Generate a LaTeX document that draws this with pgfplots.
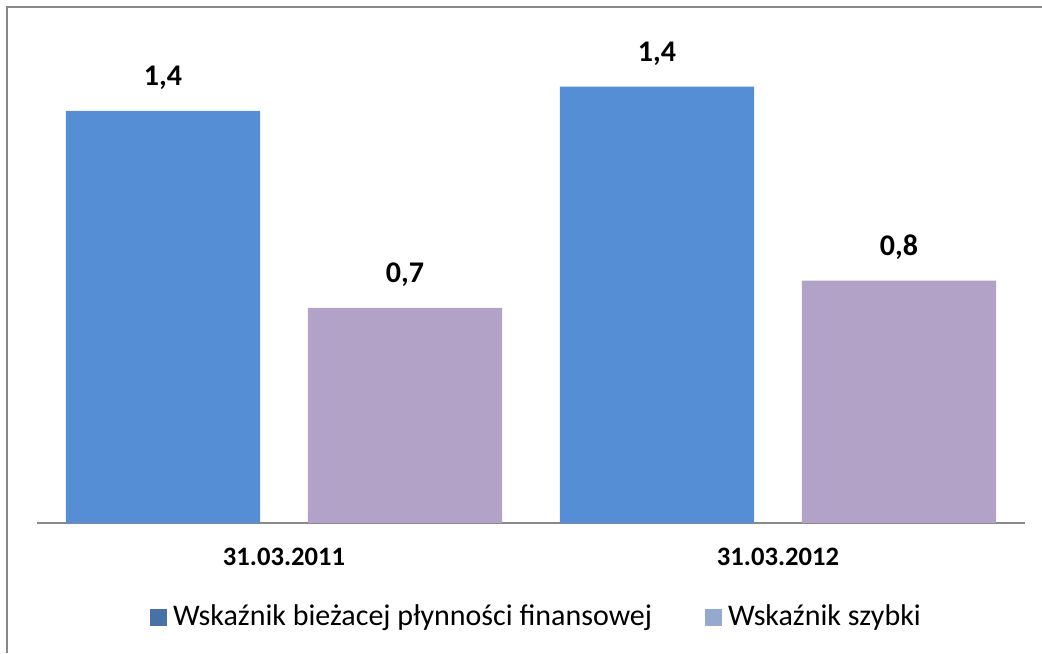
\documentclass[border=0pt]{standalone}
\usepackage{pgfplots}
\pgfplotsset{compat=1.18}
\usepackage{fontspec}
\setmainfont{Carlito}

\definecolor{barblue}{HTML}{558ED5}
\definecolor{barlilac}{HTML}{B3A2C7}
\definecolor{legblue}{HTML}{4672A8}
\definecolor{leglight}{HTML}{95A9D0}
\definecolor{framegray}{HTML}{898989}

\begin{document}
\begin{tikzpicture}
% page: 1042 x 653 px, 1px = 0.5pt
\path[use as bounding box] (0,0) rectangle (521pt,326.5pt);
\draw[framegray, line width=1pt] (3.5pt,0) -- (3.5pt,323pt) -- (521pt,323pt);

\begin{axis}[
    at={(18.5pt,65pt)},
    anchor=south west,
    scale only axis,
    width=494pt,
    height=258pt,
    xmin=-0.5, xmax=1.5,
    ymin=0, ymax=1.703,
    enlargelimits=false,
    clip=false,
    ybar,
    bar width=0.393,
    hide y axis,
    axis x line=bottom,
    x axis line style={draw=framegray, line width=1pt, -},
    xtick={0,1},
    xticklabels={31.03.2011, 31.03.2012},
    major tick length=0pt,
    xticklabel style={font=\bfseries\fontsize{13.3}{15}\selectfont, anchor=center, yshift=-17pt},
    nodes near coords,
    point meta=explicit symbolic,
    every node near coord/.append style={font=\bfseries\fontsize{15}{17}\selectfont, black, anchor=center, yshift=16.5pt},
    legend columns=2,
    legend style={
        at={(0.506,0)}, anchor=center, yshift=-47pt,
        draw=none, fill=none,
        font=\fontsize{15}{17}\selectfont,
        /tikz/every odd column/.append style={column sep=1.5pt},
        /tikz/every even column/.append style={column sep=25pt},
        nodes={inner sep=1.5pt},
    },
]
\addplot[draw=none, fill=barblue, bar shift=0pt,
    legend image code/.code={\fill[legblue] (0pt,-4.25pt) rectangle (8.5pt,4.25pt);}]
    coordinates {(-0.245,1.36) [1,4] (0.755,1.44) [1,4]};
\addplot[draw=none, fill=barlilac, bar shift=0pt,
    legend image code/.code={\fill[leglight] (0pt,-4.25pt) rectangle (8.5pt,4.25pt);}]
    coordinates {(0.245,0.71) [0,7] (1.245,0.80) [0,8]};
\legend{Wskaźnik bieżacej płynności finansowej, Wskaźnik szybki}
\end{axis}
\end{tikzpicture}
\end{document}
